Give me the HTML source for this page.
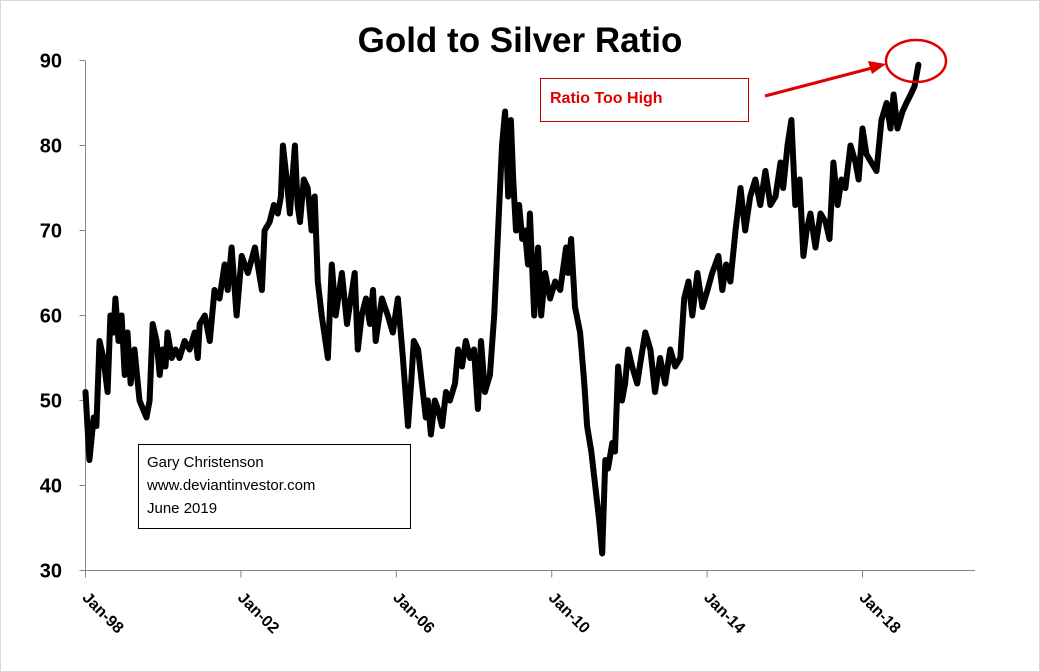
<!DOCTYPE html>
<html><head><meta charset="utf-8"><style>
body{margin:0;background:#fff}
svg{display:block}
text{font-family:"Liberation Sans",Arial,sans-serif}
</style></head><body>
<svg id="chart" width="1040" height="672">
<rect x="0.5" y="0.5" width="1039" height="671" fill="#fff" stroke="#d9d9d9"/>
<text x="520" y="52" text-anchor="middle" font-size="35" font-weight="bold">Gold to Silver Ratio</text>
<g id="axes"></g>
<g id="series"></g>
<rect x="540.5" y="78.5" width="208" height="43" fill="#fff" stroke="#c00000"/>
<text x="550" y="103" font-size="16" font-weight="bold" fill="#e00000">Ratio Too High</text>
<line x1="765" y1="96" x2="872" y2="68" stroke="#e00000" stroke-width="3"/>
<polygon points="886,64 868,61 872,74" fill="#e00000"/>
<ellipse cx="916" cy="61" rx="30" ry="21" fill="none" stroke="#e00000" stroke-width="2.5"/>
<rect x="138.5" y="444.5" width="272" height="84" fill="#fff" stroke="#000"/>
<text font-size="15"><tspan x="147" y="467">Gary Christenson</tspan><tspan x="147" y="490">www.deviantinvestor.com</tspan><tspan x="147" y="513">June 2019</tspan></text>
</svg>
<script>
const yTicks=[30,40,50,60,70,80,90];
const xTickYears=[1998,2002,2006,2010,2014,2018];
const xTickLabels=["Jan-98","Jan-02","Jan-06","Jan-10","Jan-14","Jan-18"];
const dates=[1998.00,1998.10,1998.21,1998.28,1998.36,1998.46,1998.57,1998.64,1998.72,1998.77,1998.85,1998.93,1999.01,1999.08,1999.16,1999.26,1999.39,1999.57,1999.65,1999.73,1999.83,1999.91,1999.98,2000.06,2000.11,2000.22,2000.32,2000.42,2000.55,2000.68,2000.81,2000.89,2000.94,2001.07,2001.20,2001.32,2001.45,2001.58,2001.66,2001.76,2001.89,2002.02,2002.18,2002.36,2002.54,2002.61,2002.74,2002.85,2002.95,2003.03,2003.08,2003.18,2003.26,2003.39,2003.46,2003.52,2003.62,2003.72,2003.82,2003.90,2003.98,2004.08,2004.24,2004.34,2004.44,2004.60,2004.73,2004.83,2004.93,2005.01,2005.11,2005.22,2005.32,2005.40,2005.47,2005.63,2005.78,2005.91,2006.04,2006.17,2006.30,2006.38,2006.45,2006.56,2006.66,2006.76,2006.81,2006.89,2006.99,2007.07,2007.18,2007.28,2007.38,2007.51,2007.59,2007.69,2007.79,2007.90,2008.00,2008.10,2008.18,2008.28,2008.41,2008.52,2008.62,2008.72,2008.80,2008.88,2008.95,2009.01,2009.08,2009.16,2009.24,2009.31,2009.39,2009.44,2009.55,2009.65,2009.73,2009.83,2009.96,2010.09,2010.22,2010.37,2010.42,2010.50,2010.60,2010.73,2010.84,2010.91,2011.02,2011.12,2011.22,2011.30,2011.38,2011.45,2011.56,2011.63,2011.71,2011.81,2011.89,2011.97,2012.07,2012.20,2012.30,2012.41,2012.54,2012.66,2012.79,2012.92,2013.05,2013.18,2013.31,2013.41,2013.52,2013.62,2013.75,2013.88,2014.01,2014.13,2014.29,2014.39,2014.49,2014.60,2014.73,2014.86,2014.98,2015.11,2015.24,2015.37,2015.50,2015.63,2015.76,2015.89,2015.96,2016.07,2016.17,2016.27,2016.38,2016.48,2016.56,2016.66,2016.79,2016.92,2017.05,2017.15,2017.25,2017.36,2017.46,2017.56,2017.69,2017.82,2017.90,2018.00,2018.10,2018.23,2018.36,2018.49,2018.62,2018.72,2018.80,2018.90,2019.03,2019.13,2019.24,2019.34,2019.44];
const ratios=[51,43,48,47,57,55,51,60,58,62,57,60,53,58,52,56,50,48,50,59,57,53,56,54,58,55,56,55,57,56,58,55,59,60,57,63,62,66,63,68,60,67,65,68,63,70,71,73,72,74,80,76,72,80,73,71,76,75,70,74,64,60,55,66,60,65,59,62,65,56,60,62,59,63,57,62,60,58,62,55,47,52,57,56,52,48,50,46,50,49,47,51,50,52,56,54,57,55,56,49,57,51,53,60,70,80,84,74,83,76,70,73,69,70,66,72,60,68,60,65,62,64,63,68,65,69,61,58,52,47,44,40,36,32,43,42,45,44,54,50,52,56,54,52,55,58,56,51,55,52,56,54,55,62,64,60,65,61,63,65,67,63,66,64,70,75,70,74,76,73,77,73,74,78,75,80,83,73,76,67,70,72,68,72,71,69,78,73,76,75,80,78,76,82,79,78,77,83,85,82,86,82,84,85,86,87,89.5];

const NS="http://www.w3.org/2000/svg";
const X0=85.5,XPY=38.85,Y0=570.5,PPU=8.5;
const xs=y=>X0+(y-1998)*XPY;
const ys=v=>Y0-(v-30)*PPU;
const axes=document.getElementById('axes');
function mk(tag,attrs,parent){const e=document.createElementNS(NS,tag);for(const k in attrs)e.setAttribute(k,attrs[k]);parent.appendChild(e);return e;}
let l=mk('line',{x1:X0,y1:ys(90),x2:X0,y2:Y0,stroke:'#868686'},axes);


l=mk('line',{x1:X0,y1:Y0,x2:975,y2:Y0,stroke:'#868686'},axes);


yTicks.forEach(v=>{
  const t=mk('line',{x1:X0-6,y1:ys(v),x2:X0,y2:ys(v),stroke:'#868686'},axes);
  
  
  const tx=mk('text',{x:62,y:ys(v)+7,'text-anchor':'end','font-size':20,'font-weight':'bold'},axes);
  tx.textContent=v;
  
  
});
xTickYears.forEach((yr,i)=>{
  const x=xs(yr);
  const t=mk('line',{x1:x,y1:Y0,x2:x,y2:Y0+7,stroke:'#868686'},axes);
  
  
  const tx=mk('text',{x:0,y:0,'font-size':16,'font-weight':'bold',transform:`translate(${x-4},${Y0+28}) rotate(45)`},axes);
  tx.textContent=xTickLabels[i];
  
  
});
const d=dates.map((t,i)=>(i?'L':'M')+xs(t).toFixed(1)+','+ys(ratios[i]).toFixed(1)).join(' ');
const p=mk('path',{d:d,fill:'none',stroke:'#000','stroke-width':6,'stroke-linejoin':'round','stroke-linecap':'round'},document.getElementById('series'));


</script>
</body></html>
